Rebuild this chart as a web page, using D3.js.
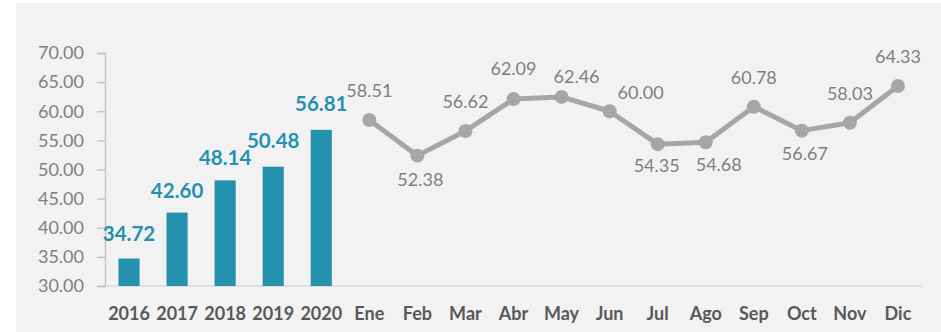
<!DOCTYPE html>
<html>
<head>
<meta charset="utf-8">
<script src="https://cdn.jsdelivr.net/npm/d3@7/dist/d3.min.js"></script>
<style>
  html, body { margin: 0; padding: 0; background: #ffffff; }
  svg { display: block; }
  text { font-family: Lato, "Open Sans", sans-serif; }
</style>
</head>
<body>
<svg id="chart" width="941" height="332"></svg>
<script>
// Annual averages (bars)
const years = ["2016", "2017", "2018", "2019", "2020"];
const yearValues = [34.72, 42.60, 48.14, 50.48, 56.81];

// Monthly values (line)
const months = ["Ene", "Feb", "Mar", "Abr", "May", "Jun", "Jul", "Ago", "Sep", "Oct", "Nov", "Dic"];
const monthValues = [58.51, 52.38, 56.62, 62.09, 62.46, 60.00, 54.35, 54.68, 60.78, 56.67, 58.03, 64.33];

// Y axis ticks
const yTicks = [30, 35, 40, 45, 50, 55, 60, 65, 70];

// Label placement: gap above each bar, and per-month label offsets (dx, dy from point to baseline)
const barLabelGap = [18, 15, 15, 19, 19];
const monthLabelOffset = [
  [0, -23], [3, 30], [0, -23], [0, -24], [15, -14], [31, -12.5],
  [-1, 28], [13, 28.5], [0, -23], [3, 29], [0, -23], [0, -23]
];

const W = 941, H = 332;
const margin = { left: 105, right: 19, top: 53, bottom: 46 };

const svg = d3.select("#chart");

// Panel background
svg.append("rect")
  .attr("x", 16).attr("y", 3)
  .attr("width", W - 16).attr("height", H - 3)
  .attr("fill", "#f2f2f2");

const categories = years.concat(months);

const x = d3.scaleBand()
  .domain(categories)
  .range([margin.left, W - margin.right])
  .paddingInner(0)
  .paddingOuter(0);

const y = d3.scaleLinear()
  .domain([30, 70])
  .range([H - margin.bottom, margin.top]);

// Y axis
const yAxis = svg.append("g")
  .attr("transform", `translate(${margin.left},0)`)
  .call(d3.axisLeft(y).tickValues(yTicks).tickFormat(d3.format(".2f")).tickSize(8).tickPadding(13));
yAxis.select(".domain").attr("stroke", "#bfbfbf").attr("stroke-width", 1.3);
yAxis.selectAll(".tick line").attr("stroke", "#bfbfbf").attr("stroke-width", 1.3);
yAxis.selectAll(".tick text")
  .attr("fill", "#7f7f7f")
  .attr("font-size", "18px")
  .attr("font-family", "Lato, 'Open Sans', sans-serif");

// Baseline
svg.append("line")
  .attr("x1", margin.left).attr("x2", W - margin.right)
  .attr("y1", y(30)).attr("y2", y(30))
  .attr("stroke", "#d9d9d9").attr("stroke-width", 1.5);

// X axis labels
svg.append("g").selectAll("text")
  .data(categories)
  .join("text")
  .attr("x", d => x(d) + x.bandwidth() / 2)
  .attr("y", y(30) + 34)
  .attr("text-anchor", "middle")
  .attr("fill", "#595959")
  .attr("font-weight", "bold")
  .attr("font-size", "18px")
  .text(d => d);

// Bars
const barW = x.bandwidth() * 0.44;
const barColor = "#2492ae";
const yearData = years.map((d, i) => ({ k: d, v: yearValues[i], gap: barLabelGap[i] }));
svg.append("g").selectAll("rect")
  .data(yearData)
  .join("rect")
  .attr("x", d => x(d.k) + (x.bandwidth() - barW) / 2)
  .attr("y", d => y(d.v))
  .attr("width", barW)
  .attr("height", d => y(30) - y(d.v))
  .attr("fill", barColor);

svg.append("g").selectAll("text")
  .data(yearData)
  .join("text")
  .attr("x", d => x(d.k) + x.bandwidth() / 2)
  .attr("y", d => y(d.v) - d.gap)
  .attr("text-anchor", "middle")
  .attr("fill", barColor)
  .attr("font-weight", "bold")
  .attr("font-size", "20.5px")
  .text(d => d.v.toFixed(2));

// Monthly line
const lineColor = "#a6a6a6";
const monthData = months.map((d, i) => ({ k: d, v: monthValues[i], off: monthLabelOffset[i] }));
const line = d3.line()
  .x(d => x(d.k) + x.bandwidth() / 2)
  .y(d => y(d.v));

svg.append("path")
  .datum(monthData)
  .attr("d", line)
  .attr("fill", "none")
  .attr("stroke", lineColor)
  .attr("stroke-width", 5)
  .attr("stroke-linejoin", "round");

svg.append("g").selectAll("circle")
  .data(monthData)
  .join("circle")
  .attr("cx", d => x(d.k) + x.bandwidth() / 2)
  .attr("cy", d => y(d.v))
  .attr("r", 7)
  .attr("fill", lineColor);

svg.append("g").selectAll("text")
  .data(monthData)
  .join("text")
  .attr("x", d => x(d.k) + x.bandwidth() / 2 + d.off[0])
  .attr("y", d => y(d.v) + d.off[1])
  .attr("text-anchor", "middle")
  .attr("fill", "#7f7f7f")
  .attr("font-size", "18px")
  .text(d => d.v.toFixed(2));
</script>
</body>
</html>
